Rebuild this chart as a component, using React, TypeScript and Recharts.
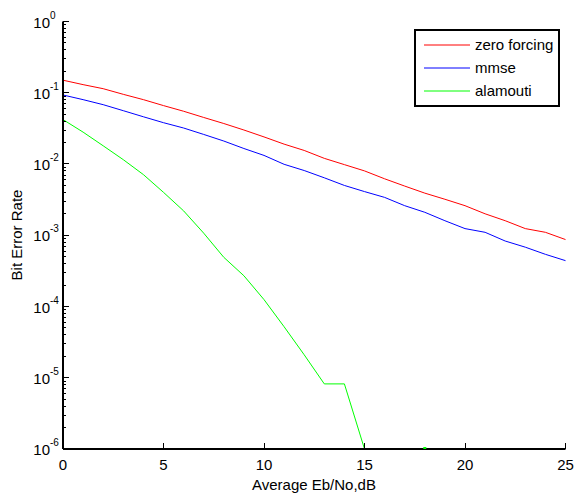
import React from 'react';
import { LineChart, Line, XAxis, YAxis, Legend, Label } from 'recharts';

const FONT = '"Liberation Sans", Arial, Helvetica, sans-serif';

// Eb/No in dB
const snr = [0, 1, 2, 3, 4, 5, 6, 7, 8, 9, 10, 11, 12, 13, 14, 15, 16, 17, 18, 19, 20, 21, 22, 23, 24, 25];

const seriesNames = ['zero forcing', 'mmse', 'alamouti'];

const zeroForcing = [
  0.15, 0.13, 0.114, 0.095, 0.08, 0.066, 0.055, 0.045, 0.037, 0.03, 0.024, 0.019, 0.0155,
  0.012, 0.0098, 0.008, 0.0062, 0.0049, 0.0039, 0.0032, 0.0026, 0.002, 0.0016, 0.00124, 0.0011, 0.00087,
];
const mmse = [
  0.093, 0.08, 0.068, 0.056, 0.046, 0.038, 0.032, 0.026, 0.021, 0.0165, 0.0132, 0.0099, 0.0081,
  0.0064, 0.005, 0.0041, 0.0034, 0.0026, 0.0021, 0.0016, 0.00124, 0.0011, 0.00083, 0.00068, 0.00054, 0.00044,
];
const alamouti = [
  0.042, 0.028, 0.018, 0.0115, 0.0071, 0.004, 0.0022, 0.00107, 0.00049, 0.00027, 0.000125, 0.000052, 0.000021,
  0.0000082, 0.0000082, 0.000001, null, null, 0.000001, null, null, null, null, null, null, null,
];

const xTicks = [0, 5, 10, 15, 20, 25];
const decades = [-6, -5, -4, -3, -2, -1];

// major + minor ticks of the log axis
const yTicks: number[] = [];
decades.forEach((e) => {
  for (let m = 1; m <= 9; m++) yTicks.push(m * Math.pow(10, e));
});
yTicks.push(1);

const isMajor = (v: number) => Math.abs(Math.log10(v) - Math.round(Math.log10(v))) < 1e-6;
const crisp = (v: number) => Math.round(v - 0.5) + 0.5;

const data = snr.map((x, i) => ({
  snr: x,
  zf: zeroForcing[i],
  mmse: mmse[i],
  ala: alamouti[i],
}));

function BottomTick({ x, y, payload }: any) {
  const cx = crisp(x);
  return (
    <g>
      <line x1={cx} x2={cx} y1={y} y2={y - 6} stroke="#000" />
      <text x={x} y={y + 21} textAnchor="middle" fontSize={15} fontFamily={FONT} fill="#000">
        {payload.value}
      </text>
    </g>
  );
}

function TopTick({ x, y }: any) {
  const cx = crisp(x);
  return <line x1={cx} x2={cx} y1={y} y2={y + 6} stroke="#000" />;
}

function LeftTick({ x, y, payload }: any) {
  const major = isMajor(payload.value);
  const len = major ? 6 : 3;
  const cy = crisp(y);
  return (
    <g>
      <line x1={x} x2={x + len} y1={cy} y2={cy} stroke="#000" />
      {major && (
        <g fontFamily={FONT} fill="#000">
          <text x={x - 13} y={y + 6} textAnchor="end" fontSize={15}>10</text>
          <text x={x - 13} y={y - 3} textAnchor="start" fontSize={10}>
            {Math.round(Math.log10(payload.value))}
          </text>
        </g>
      )}
    </g>
  );
}

function RightTick({ x, y, payload }: any) {
  const len = isMajor(payload.value) ? 6 : 3;
  const cy = crisp(y);
  return <line x1={x} x2={x - len} y1={cy} y2={cy} stroke="#000" />;
}

function LegendBox({ payload }: any) {
  const items = [...(payload || [])].sort(
    (a: any, b: any) => seriesNames.indexOf(a.value) - seriesNames.indexOf(b.value)
  );
  return (
    <svg width={146} height={78} style={{ display: 'block' }}>
      <rect x={1} y={1} width={144} height={76} fill="#fff" stroke="#000" strokeWidth={2} />
      {items.map((p: any, i: number) => (
        <g key={p.value}>
          <line x1={10} x2={56} y1={16 + i * 23} y2={16 + i * 23} stroke={p.color} />
          <text x={61} y={21 + i * 23} fontSize={15} fontFamily={FONT} fill="#000">
            {p.value}
          </text>
        </g>
      ))}
    </svg>
  );
}

export default function App() {
  return (
    <div style={{ position: 'absolute', left: 0, top: 0, background: '#fff' }}>
      <LineChart width={576} height={495} data={data} margin={{ top: 21.5, right: 10.5, left: 0, bottom: 0 }}>
        <XAxis
          dataKey="snr"
          type="number"
          domain={[0, 25]}
          ticks={xTicks}
          interval={0}
          height={46}
          tickSize={0}
          tickMargin={0}
          tickLine={false}
          axisLine={{ stroke: '#000', strokeWidth: 2 }}
          tick={<BottomTick />}
        >
          <Label
            content={() => (
              <text x={314} y={490} textAnchor="middle" fontSize={15} fontFamily={FONT} fill="#000">
                Average Eb/No,dB
              </text>
            )}
          />
        </XAxis>
        <XAxis
          xAxisId="top"
          orientation="top"
          dataKey="snr"
          type="number"
          domain={[0, 25]}
          ticks={xTicks}
          interval={0}
          height={0}
          tickSize={0}
          tickMargin={0}
          tickLine={false}
          axisLine={{ stroke: '#000' }}
          tick={<TopTick />}
        />
        <YAxis
          type="number"
          scale="log"
          domain={[1e-6, 1]}
          allowDataOverflow
          ticks={yTicks}
          interval={0}
          width={63}
          tickSize={0}
          tickMargin={0}
          tickLine={false}
          axisLine={{ stroke: '#000', strokeWidth: 2 }}
          tick={<LeftTick />}
        >
          <Label
            content={() => (
              <text
                x={22}
                y={235}
                transform="rotate(-90 22 235)"
                textAnchor="middle"
                fontSize={15}
                fontFamily={FONT}
                fill="#000"
              >
                Bit Error Rate
              </text>
            )}
          />
        </YAxis>
        <YAxis
          yAxisId="right"
          orientation="right"
          type="number"
          scale="log"
          domain={[1e-6, 1]}
          allowDataOverflow
          ticks={yTicks}
          interval={0}
          width={0}
          tickSize={0}
          tickMargin={0}
          tickLine={false}
          axisLine={{ stroke: '#000' }}
          tick={<RightTick />}
        />
        <Line
          name="zero forcing"
          dataKey="zf"
          stroke="#ff0000"
          strokeWidth={1}
          dot={false}
          isAnimationActive={false}
        />
        <Line
          name="mmse"
          dataKey="mmse"
          stroke="#0000ff"
          strokeWidth={1}
          dot={false}
          isAnimationActive={false}
        />
        <Line
          name="alamouti"
          dataKey="ala"
          stroke="#00ff00"
          strokeWidth={1}
          isAnimationActive={false}
          dot={(p: any) =>
            p.index === 18 ? (
              <rect key="iso" x={p.cx - 1.5} y={p.cy - 2} width={3} height={3} fill="#00ff00" />
            ) : (
              <g key={`d${p.index}`} />
            )
          }
        />
        <Legend
          layout="horizontal"
          verticalAlign="middle"
          align="center"
          wrapperStyle={{ top: 29, left: 414, width: 146 }}
          content={<LegendBox />}
        />
      </LineChart>
    </div>
  );
}
